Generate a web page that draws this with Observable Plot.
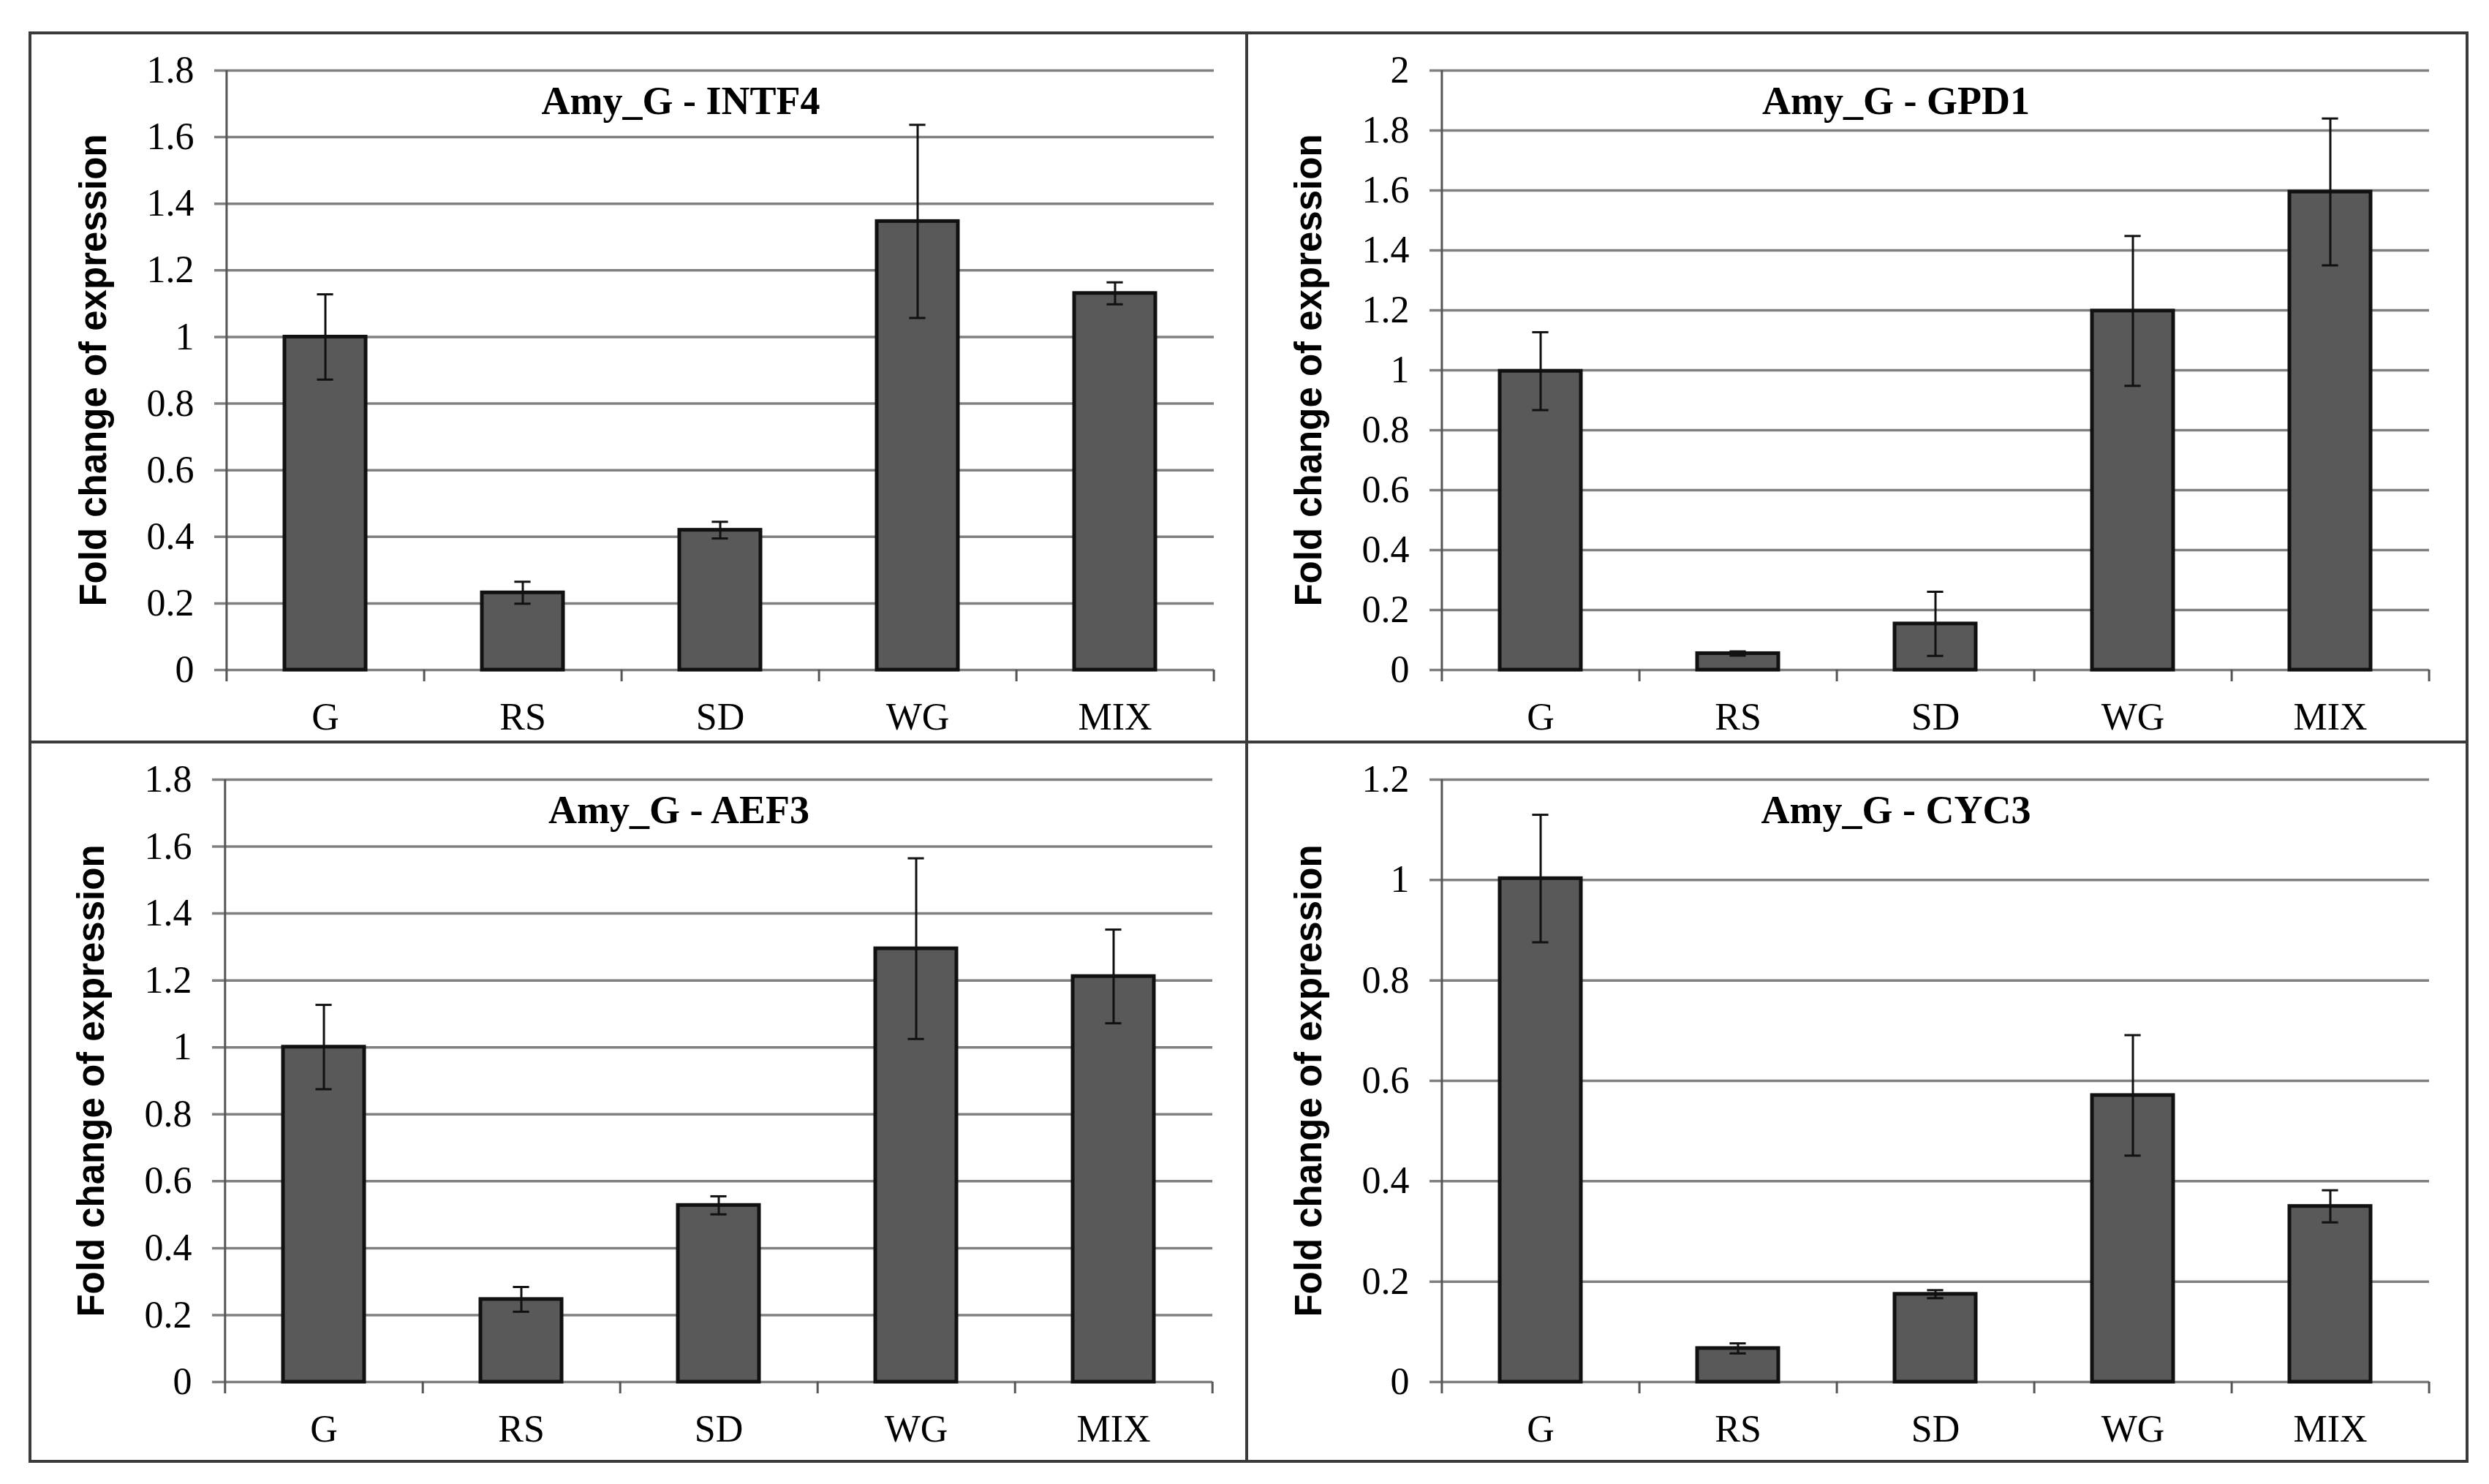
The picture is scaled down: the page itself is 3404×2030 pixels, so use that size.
<!DOCTYPE html>
<html><head><meta charset="utf-8">
<script src="https://cdn.jsdelivr.net/npm/d3@7"></script>
<script src="https://cdn.jsdelivr.net/npm/@observablehq/plot@0.6"></script>
<style>
html,body{margin:0;padding:0;background:#fff;}
#fig{position:relative;width:3404px;height:2030px;background:#fff;}
.panel{position:absolute;}
.frame{position:absolute;border:4px solid #3a3a3a;box-sizing:border-box;}
.line{position:absolute;background:#3a3a3a;}
</style></head><body><div id="fig"></div>
<script>
// ---- data ----
const categories = ["G", "RS", "SD", "WG", "MIX"];
const yLabel = "Fold change of expression";
const titles = ["Amy_G - INTF4", "Amy_G - GPD1", "Amy_G - AEF3", "Amy_G - CYC3"];

const intf4 = [1.0, 0.232, 0.42, 1.347, 1.131];
const intf4Err = [0.128, 0.033, 0.025, 0.29, 0.033];
const gpd1 = [0.997, 0.055, 0.154, 1.198, 1.595];
const gpd1Err = [0.13, 0.007, 0.107, 0.25, 0.245];
const aef3 = [1.001, 0.247, 0.528, 1.295, 1.212];
const aef3Err = [0.126, 0.037, 0.027, 0.27, 0.14];
const cyc3 = [1.003, 0.067, 0.175, 0.571, 0.35];
const cyc3Err = [0.127, 0.01, 0.008, 0.12, 0.032];

const ticks18 = [0, 0.2, 0.4, 0.6, 0.8, 1, 1.2, 1.4, 1.6, 1.8];
const ticks20 = [0, 0.2, 0.4, 0.6, 0.8, 1, 1.2, 1.4, 1.6, 1.8, 2];
const ticks12 = [0, 0.2, 0.4, 0.6, 0.8, 1, 1.2];
const tickLabels18 = ["0", "0.2", "0.4", "0.6", "0.8", "1", "1.2", "1.4", "1.6", "1.8"];
const tickLabels20 = ["0", "0.2", "0.4", "0.6", "0.8", "1", "1.2", "1.4", "1.6", "1.8", "2"];
const tickLabels12 = ["0", "0.2", "0.4", "0.6", "0.8", "1", "1.2"];

// ---- layout ----
const panels = [
  {title: titles[0], values: intf4, errs: intf4Err, ticks: ticks18, labels: tickLabels18, left: 41, top: 45, w: 1664, h: 970, ml: 268, mr: 45, mt: 51, mb: 99},
  {title: titles[1], values: gpd1, errs: gpd1Err, ticks: ticks20, labels: tickLabels20, left: 1705, top: 45, w: 1669, h: 970, ml: 266, mr: 52, mt: 51, mb: 99},
  {title: titles[2], values: aef3, errs: aef3Err, ticks: ticks18, labels: tickLabels18, left: 41, top: 1015, w: 1664, h: 984, ml: 265, mr: 47, mt: 51, mb: 109},
  {title: titles[3], values: cyc3, errs: cyc3Err, ticks: ticks12, labels: tickLabels12, left: 1705, top: 1015, w: 1669, h: 984, ml: 266, mr: 52, mt: 51, mb: 109}
];

const fig = document.getElementById("fig");
const serif = "'Liberation Serif', 'Times New Roman', serif";
const sans = "'Liberation Sans', Arial, sans-serif";
const padInner = 0.59;
const capW = 22;

for (const p of panels) {
  const data = categories.map((c, i) => ({cat: c, val: p.values[i], lo: p.values[i] - p.errs[i], hi: p.values[i] + p.errs[i]}));
  const step = (p.w - p.ml - p.mr) / categories.length;
  const bw = step * (1 - padInner);
  const capInset = (bw - capW) / 2;
  const yMax = p.ticks[p.ticks.length - 1];
  const chart = Plot.plot({
    width: p.w, height: p.h,
    marginLeft: p.ml, marginRight: p.mr, marginTop: p.mt, marginBottom: p.mb,
    style: {fontFamily: serif, background: "transparent", color: "#000"},
    x: {type: "band", domain: categories, paddingInner: padInner, paddingOuter: padInner / 2, align: 0.5},
    y: {domain: [0, yMax], nice: false},
    marks: [
      Plot.ruleY(p.ticks, {y: d => d, stroke: "#808080", strokeWidth: 3.5, insetLeft: -16}),
      Plot.ruleX([categories[0]], {x: d => d, y1: yMax, y2: 0, dx: -step / 2, stroke: "#555", strokeWidth: 3, insetBottom: -16}),
      Plot.ruleX(categories, {x: d => d, y1: 0, y2: 0, dx: step / 2, stroke: "#555", strokeWidth: 3, insetBottom: -16}),
      Plot.barY(data, {x: "cat", y: "val", fill: "#595959", stroke: "#111", strokeWidth: 5}),
      Plot.ruleX(data, {x: "cat", y1: "lo", y2: "hi", stroke: "#111", strokeWidth: 3}),
      Plot.tickY(data, {x: "cat", y: "hi", stroke: "#111", strokeWidth: 3, insetLeft: capInset, insetRight: capInset}),
      Plot.tickY(data, {x: "cat", y: "lo", stroke: "#111", strokeWidth: 3, insetLeft: capInset, insetRight: capInset}),
      Plot.axisY({ticks: p.ticks, tickFormat: (d) => p.labels[p.ticks.indexOf(d)], tickSize: 0, tickPadding: 44, fontSize: 52, label: null}),
      Plot.axisX({tickSize: 0, tickPadding: 45, fontSize: 52, label: null}),
      Plot.text([p.title], {text: d => d, frameAnchor: "top", dx: -54, dy: 42, lineAnchor: "middle", fontSize: 54, fontWeight: "bold", fontFamily: serif}),
      Plot.text([yLabel], {text: d => d, frameAnchor: "left", dx: -181, rotate: -90, textAnchor: "middle", lineAnchor: "middle", fontSize: 51, fontWeight: "bold", fontFamily: sans})
    ]
  });
  const div = document.createElement("div");
  div.className = "panel";
  div.style.left = p.left + "px";
  div.style.top = p.top + "px";
  div.appendChild(chart);
  fig.appendChild(div);
}

// outer frame and dividers
const frame = document.createElement("div");
frame.className = "frame";
Object.assign(frame.style, {left: "39px", top: "43px", width: "3337px", height: "1958px"});
fig.appendChild(frame);
const vline = document.createElement("div");
vline.className = "line";
Object.assign(vline.style, {left: "1703px", top: "43px", width: "4px", height: "1958px"});
fig.appendChild(vline);
const hline = document.createElement("div");
hline.className = "line";
Object.assign(hline.style, {left: "39px", top: "1013px", width: "3337px", height: "4px"});
fig.appendChild(hline);
</script>
</body></html>
